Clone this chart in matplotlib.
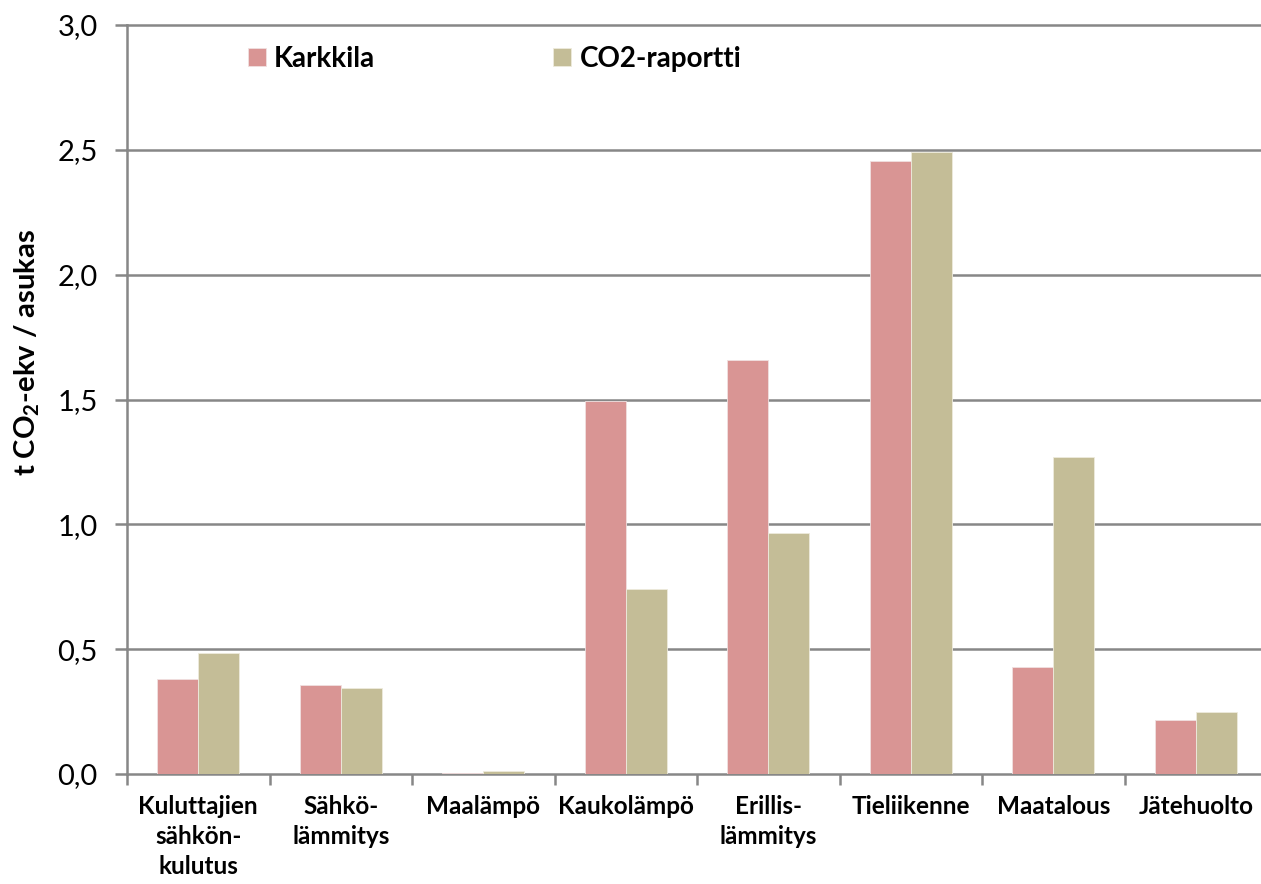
import matplotlib
matplotlib.use("Agg")
import matplotlib.pyplot as plt
import numpy as np

categories = ["Kuluttajien\nsähkön-\nkulutus", "Sähkö-\nlämmitys", "Maalämpö", "Kaukolämpö",
              "Erillis-\nlämmitys", "Tieliikenne", "Maatalous", "Jätehuolto"]
karkkila = [0.38, 0.355, 0.005, 1.495, 1.66, 2.455, 0.43, 0.216]
co2_raportti = [0.485, 0.345, 0.012, 0.74, 0.965, 2.49, 1.27, 0.248]
series_names = ["Karkkila", "CO2-raportti"]
yticks = [0.0, 0.5, 1.0, 1.5, 2.0, 2.5, 3.0]

plt.rcParams['font.family'] = ['Lato', 'DejaVu Sans']
plt.rcParams['mathtext.fontset'] = 'custom'
plt.rcParams['mathtext.rm'] = 'Lato'
plt.rcParams['mathtext.bf'] = 'Lato:bold'

fig = plt.figure(figsize=(12.61, 8.84), dpi=100)
W, H = 1261, 884
left, right, top, bottom = 127, 127 + 8 * 142.5, 25, 774
ax = fig.add_axes([left / W, 1 - bottom / H, (right - left) / W, (bottom - top) / H])

grid_c = "#878787"
c1, c2 = "#D99594", "#C4BD97"
x = np.arange(len(categories)) + 0.5
bw = 0.288
ax.bar(x - bw / 2, karkkila, bw, color=c1, edgecolor="#F0E0E0", linewidth=0.6, label=series_names[0], zorder=3)
ax.bar(x + bw / 2, co2_raportti, bw, color=c2, edgecolor="#EEEBDD", linewidth=0.6, label=series_names[1], zorder=3)

ax.set_xlim(0, len(categories))
ax.set_ylim(0, 3.0)
ax.set_yticks(yticks)
ax.set_yticklabels([f"{v:.1f}".replace(".", ",") for v in yticks], fontsize=21)
for v in yticks[1:]:
    ax.axhline(v, color=grid_c, linewidth=1.8, zorder=1, clip_on=False)

ax.set_xticks(np.arange(len(categories) + 1))
ax.set_xticklabels([])
ax.set_xticks(x, minor=True)
ax.set_xticklabels(categories, minor=True, fontsize=17.5, fontweight="bold", linespacing=1.38, va="top")
ax.tick_params(axis="x", which="minor", length=0, pad=15)
ax.tick_params(axis="x", which="major", length=8, width=1.8, color=grid_c, direction="out")
ax.tick_params(axis="y", length=9, width=1.8, color=grid_c, direction="out", pad=12)

for s in ["top", "right"]:
    ax.spines[s].set_visible(False)
for s in ["left", "bottom"]:
    ax.spines[s].set_color(grid_c)
    ax.spines[s].set_linewidth(1.8)

fig.text(27 / W, 1 - 353 / H, r"t CO$_\mathbf{2}$-ekv / asukas", rotation=90, fontsize=21,
         fontweight="bold", ha="center", va="center")

ax.legend(ncol=2, frameon=False, loc="upper left", bbox_to_anchor=((227 - left) / (right - left), 1.0),
          prop={"weight": "bold", "size": 20}, handlelength=0.65, handleheight=0.65,
          handletextpad=0.3, columnspacing=6.4, borderaxespad=0.35)

fig.savefig("out.png", dpi=100)
